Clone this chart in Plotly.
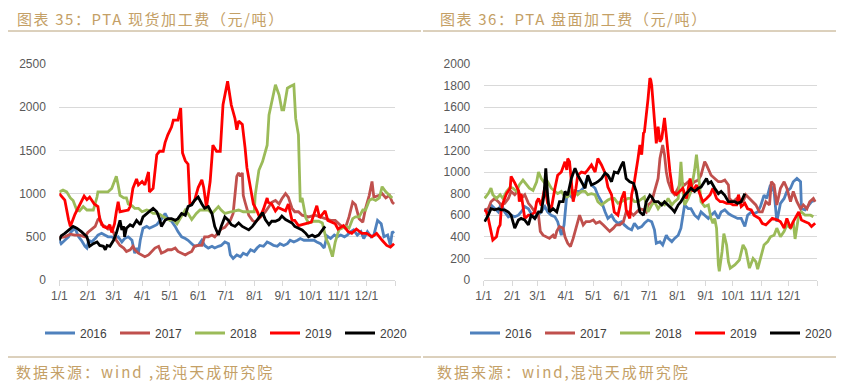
import plotly.graph_objects as go
import pandas as pd

years = ["2016", "2017", "2018", "2019", "2020"]
colors = ["#4F81BD", "#C0504D", "#9BBB59", "#FF0000", "#000000"]
month_ticks = ["1/1", "2/1", "3/1", "4/1", "5/1", "6/1", "7/1", "8/1", "9/1", "10/1", "11/1", "12/1"]

# ---------------- PTA spot processing fee (left) : day-of-year, value ----------------
spot_2016_day = [0, 2, 6, 10, 13, 17, 21, 24, 28, 30, 32, 35, 39, 42, 46, 50, 53, 57, 60, 64, 68, 71, 75, 79, 82, 84, 86, 88, 91, 95, 98, 102, 106, 109, 113, 115, 118, 122, 126, 129, 133, 137, 140, 144, 147, 151, 155, 158, 162, 166, 169, 173, 176, 180, 184, 186, 189, 193, 197, 200, 204, 208, 212, 215, 218, 222, 226, 230, 233, 237, 240, 244, 248, 251, 255, 259, 262, 266, 270, 273, 277, 280, 284, 288, 291, 295, 299, 302, 306, 310, 313, 317, 320, 324, 328, 331, 335, 339, 342, 346, 350, 353, 357, 360, 362, 364]
spot_2016_val = [460, 420, 460, 500, 560, 600, 500, 460, 390, 370, 460, 440, 480, 520, 540, 520, 500, 500, 480, 500, 440, 480, 500, 460, 310, 370, 310, 460, 600, 620, 600, 620, 640, 680, 730, 770, 710, 680, 620, 560, 500, 480, 460, 420, 390, 400, 460, 400, 370, 390, 370, 390, 400, 440, 420, 290, 250, 290, 270, 310, 290, 350, 330, 370, 400, 390, 440, 420, 400, 390, 420, 400, 420, 460, 440, 460, 480, 460, 460, 460, 460, 440, 420, 370, 510, 480, 520, 500, 520, 500, 520, 560, 580, 520, 560, 480, 560, 500, 520, 690, 650, 500, 520, 400, 560, 540]

spot_2017_day = [0, 6, 12, 17, 22, 28, 31, 35, 39, 42, 44, 46, 50, 53, 57, 59, 62, 66, 70, 73, 77, 80, 82, 86, 90, 93, 97, 100, 104, 108, 111, 115, 118, 122, 126, 129, 133, 137, 140, 144, 147, 151, 155, 158, 162, 166, 169, 173, 176, 180, 186, 189, 193, 195, 197, 199, 200, 202, 206, 210, 213, 217, 221, 224, 228, 231, 235, 239, 242, 246, 249, 253, 256, 260, 264, 271, 278, 283, 290, 295, 300, 306, 311, 315, 319, 322, 326, 330, 333, 337, 340, 342, 348, 351, 355, 359, 362, 364]
spot_2017_val = [490, 500, 530, 520, 520, 500, 550, 590, 620, 700, 720, 640, 620, 590, 590, 550, 460, 400, 370, 330, 350, 390, 350, 310, 290, 270, 290, 330, 370, 390, 310, 330, 350, 350, 370, 330, 310, 290, 310, 330, 390, 400, 400, 500, 500, 520, 500, 550, 590, 610, 690, 770, 1200, 1240, 1200, 1240, 980, 900, 750, 690, 670, 710, 750, 790, 850, 900, 920, 880, 940, 1000, 960, 830, 790, 790, 750, 730, 750, 730, 710, 690, 690, 630, 600, 730, 900, 870, 710, 670, 830, 980, 1140, 960, 980, 1000, 950, 980, 900, 880]

spot_2018_day = [0, 4, 8, 12, 15, 19, 22, 26, 30, 33, 37, 41, 42, 48, 53, 57, 61, 62, 64, 66, 70, 73, 75, 79, 82, 86, 90, 95, 98, 102, 106, 109, 115, 120, 124, 128, 133, 137, 140, 144, 149, 153, 158, 162, 166, 169, 173, 176, 180, 187, 195, 200, 204, 208, 212, 213, 215, 217, 221, 224, 226, 228, 231, 235, 239, 242, 244, 248, 251, 255, 257, 260, 262, 264, 268, 271, 277, 282, 286, 290, 293, 297, 300, 304, 311, 315, 319, 322, 326, 330, 333, 337, 340, 344, 348, 351, 355, 359, 362]
spot_2018_val = [1020, 1040, 1020, 950, 920, 810, 800, 850, 810, 810, 810, 960, 1020, 1020, 1020, 1060, 1170, 1200, 1100, 980, 950, 950, 880, 860, 830, 830, 790, 810, 800, 770, 770, 760, 720, 690, 700, 650, 740, 810, 770, 700, 770, 810, 810, 810, 770, 810, 850, 810, 770, 790, 810, 790, 790, 790, 790, 980, 1140, 1270, 1370, 1480, 1560, 1910, 2060, 2260, 2140, 1970, 1970, 2220, 2240, 2260, 1870, 1680, 900, 950, 720, 660, 680, 680, 660, 480, 410, 270, 440, 580, 620, 600, 710, 730, 730, 810, 810, 920, 940, 920, 950, 1080, 1020, 980, 950]

spot_2019_day = [0, 3, 6, 10, 12, 17, 22, 27, 30, 33, 38, 42, 44, 48, 52, 55, 57, 60, 62, 64, 66, 70, 75, 77, 80, 84, 86, 90, 93, 97, 98, 102, 106, 109, 113, 115, 118, 122, 124, 129, 132, 134, 137, 140, 142, 144, 147, 151, 155, 157, 160, 164, 167, 171, 175, 178, 183, 187, 191, 193, 195, 199, 200, 202, 204, 208, 211, 215, 218, 222, 226, 227, 231, 235, 238, 242, 246, 249, 253, 256, 260, 267, 274, 280, 283, 289, 292, 300, 303, 309, 314, 318, 323, 329, 334, 340, 345, 351, 356, 360, 364]
spot_2019_val = [1000, 960, 925, 700, 620, 760, 870, 970, 930, 960, 880, 850, 700, 617, 600, 640, 550, 650, 790, 905, 790, 800, 810, 850, 1060, 1170, 1100, 1140, 1100, 1250, 1020, 1060, 1450, 1490, 1490, 1590, 1680, 1770, 1850, 1850, 1990, 1470, 1380, 1340, 880, 880, 920, 1070, 1160, 1070, 840, 1140, 1560, 1490, 1490, 2030, 2300, 2025, 1870, 1740, 1840, 1800, 1680, 1530, 1300, 1030, 880, 800, 720, 820, 950, 900, 880, 800, 840, 820, 800, 880, 690, 690, 630, 650, 670, 860, 720, 800, 690, 650, 590, 630, 560, 540, 590, 540, 540, 500, 540, 460, 400, 380, 420]

spot_2020_day = [0, 2, 6, 12, 15, 19, 24, 30, 33, 37, 41, 44, 48, 50, 52, 55, 59, 62, 66, 68, 70, 71, 73, 77, 80, 84, 88, 91, 95, 98, 102, 106, 109, 111, 115, 118, 122, 126, 129, 133, 137, 140, 144, 147, 151, 155, 158, 162, 166, 169, 173, 176, 180, 184, 187, 191, 195, 199, 202, 206, 210, 213, 217, 221, 224, 228, 231, 235, 239, 242, 246, 249, 253, 256, 260, 264, 268, 271, 275, 278, 282, 286, 289]
spot_2020_val = [460, 510, 540, 600, 620, 600, 560, 500, 390, 420, 440, 400, 390, 350, 400, 390, 460, 540, 690, 580, 620, 500, 600, 640, 620, 690, 640, 730, 770, 790, 830, 790, 710, 620, 690, 710, 710, 690, 710, 770, 750, 850, 870, 920, 960, 880, 830, 850, 770, 620, 520, 620, 730, 690, 640, 620, 660, 620, 600, 580, 620, 660, 720, 780, 700, 640, 680, 680, 700, 740, 700, 680, 660, 620, 600, 580, 540, 500, 520, 500, 520, 580, 620]

# ---------------- PTA futures processing fee (right) ----------------
fut_2016_day = [1, 5, 8, 12, 16, 19, 23, 27, 30, 34, 38, 41, 45, 49, 52, 56, 60, 63, 67, 70, 74, 78, 81, 85, 88, 91, 94, 98, 102, 105, 109, 112, 114, 118, 122, 125, 129, 133, 136, 140, 143, 147, 151, 154, 158, 162, 165, 169, 173, 176, 180, 184, 187, 189, 193, 196, 200, 202, 206, 209, 213, 216, 220, 224, 227, 231, 235, 238, 242, 246, 249, 253, 257, 260, 264, 268, 271, 275, 278, 282, 286, 289, 293, 296, 300, 303, 307, 310, 314, 318, 321, 325, 329, 332, 336, 339, 343, 347, 348, 352, 356, 359, 363]
fut_2016_val = [660, 630, 695, 660, 630, 710, 630, 585, 600, 585, 600, 630, 680, 660, 615, 570, 600, 630, 680, 630, 600, 585, 540, 415, 510, 785, 785, 755, 820, 820, 850, 910, 955, 880, 850, 785, 725, 630, 570, 600, 555, 525, 540, 510, 480, 465, 525, 480, 495, 525, 555, 540, 465, 340, 355, 325, 415, 385, 355, 385, 415, 480, 695, 660, 660, 600, 570, 630, 600, 570, 600, 630, 570, 630, 650, 615, 600, 585, 570, 570, 495, 600, 630, 615, 630, 680, 785, 755, 880, 820, 540, 710, 755, 820, 850, 910, 940, 910, 660, 650, 695, 725, 740]

fut_2017_day = [1, 5, 8, 12, 16, 19, 23, 27, 30, 34, 38, 41, 45, 49, 52, 56, 60, 62, 65, 69, 72, 76, 78, 80, 83, 87, 89, 92, 95, 98, 102, 105, 109, 112, 116, 120, 123, 127, 131, 134, 138, 142, 145, 149, 153, 156, 160, 164, 167, 171, 175, 178, 180, 184, 187, 191, 193, 195, 196, 198, 200, 202, 206, 209, 213, 216, 220, 224, 227, 231, 235, 238, 242, 244, 246, 249, 253, 257, 260, 264, 268, 269, 273, 277, 280, 284, 287, 291, 295, 298, 302, 305, 309, 313, 315, 318, 321, 325, 329, 332, 336, 339, 343, 347, 350, 354, 357, 361, 363]
fut_2017_val = [650, 660, 725, 755, 725, 695, 710, 755, 820, 790, 830, 755, 790, 710, 680, 630, 600, 450, 415, 400, 385, 415, 385, 450, 495, 480, 400, 340, 310, 385, 510, 600, 510, 540, 540, 555, 525, 540, 510, 480, 450, 480, 510, 510, 540, 630, 630, 600, 630, 660, 650, 630, 695, 725, 820, 940, 1125, 1190, 1250, 1160, 1000, 910, 820, 790, 850, 910, 880, 910, 880, 910, 925, 970, 1095, 1065, 1030, 970, 940, 910, 910, 925, 880, 755, 725, 755, 725, 725, 790, 755, 725, 695, 630, 630, 725, 695, 910, 880, 695, 850, 910, 850, 725, 820, 725, 660, 695, 660, 725, 755, 725]

fut_2018_day = [1, 5, 8, 10, 14, 18, 21, 25, 29, 32, 36, 39, 43, 47, 50, 54, 58, 60, 63, 67, 70, 74, 78, 81, 85, 89, 92, 96, 100, 103, 107, 111, 114, 118, 122, 125, 129, 133, 136, 140, 143, 147, 151, 154, 158, 162, 165, 169, 173, 176, 180, 184, 187, 191, 195, 198, 202, 206, 209, 213, 215, 216, 218, 220, 224, 227, 231, 233, 235, 237, 238, 242, 246, 249, 251, 253, 255, 257, 258, 261, 263, 266, 268, 270, 275, 280, 284, 287, 291, 295, 298, 300, 304, 307, 311, 314, 318, 321, 325, 329, 332, 336, 339, 341, 345, 348, 352, 358, 361]
fut_2018_val = [755, 800, 850, 790, 755, 790, 755, 820, 860, 850, 820, 880, 925, 880, 850, 830, 910, 1000, 940, 895, 910, 850, 820, 800, 820, 770, 770, 820, 830, 790, 820, 820, 790, 800, 790, 725, 695, 725, 740, 755, 755, 710, 725, 740, 755, 755, 725, 725, 755, 770, 630, 695, 725, 660, 710, 695, 755, 695, 725, 755, 970, 1095, 850, 695, 755, 820, 1020, 1160, 1000, 820, 725, 680, 695, 570, 525, 570, 480, 140, 80, 260, 430, 325, 170, 110, 140, 185, 325, 280, 110, 200, 170, 100, 230, 325, 355, 400, 415, 480, 400, 450, 510, 480, 540, 380, 600, 630, 600, 600, 585]

fut_2019_day = [1, 3, 5, 8, 10, 14, 16, 18, 19, 21, 25, 29, 30, 34, 38, 39, 41, 45, 49, 52, 56, 58, 60, 63, 67, 70, 74, 78, 81, 85, 89, 91, 92, 94, 98, 101, 103, 107, 111, 114, 118, 122, 125, 129, 133, 136, 140, 143, 147, 151, 154, 156, 160, 162, 165, 169, 171, 173, 175, 176, 178, 180, 182, 183, 184, 187, 189, 191, 193, 195, 196, 198, 200, 202, 204, 206, 207, 211, 215, 218, 222, 226, 229, 233, 237, 240, 244, 248, 251, 255, 259, 262, 266, 270, 273, 277, 279, 282, 286, 289, 293, 296, 302, 305, 309, 313, 316, 322, 325, 329, 332, 336, 339, 345, 348, 352, 356, 359, 363]
fut_2019_val = [650, 630, 570, 450, 370, 400, 480, 510, 630, 710, 800, 850, 960, 900, 830, 725, 800, 570, 600, 600, 630, 725, 755, 690, 860, 710, 660, 850, 970, 1000, 1095, 1020, 1125, 1095, 725, 850, 970, 1000, 990, 1020, 1065, 1000, 1125, 1065, 990, 860, 790, 630, 600, 755, 820, 650, 570, 790, 910, 1125, 1250, 1160, 1360, 1370, 1500, 1680, 1870, 1850, 1800, 1435, 1265, 1420, 1280, 1310, 1370, 1500, 1340, 1160, 1000, 880, 820, 790, 820, 850, 755, 940, 820, 880, 790, 725, 755, 790, 850, 755, 725, 725, 710, 710, 695, 695, 790, 680, 710, 660, 650, 600, 570, 525, 510, 540, 570, 555, 540, 480, 570, 480, 540, 630, 555, 540, 525, 495, 525]

fut_2020_day = [1, 5, 8, 12, 16, 19, 23, 27, 30, 34, 38, 41, 45, 49, 52, 56, 60, 63, 66, 68, 70, 72, 76, 80, 83, 87, 89, 92, 96, 100, 103, 107, 111, 114, 118, 122, 125, 129, 133, 136, 140, 143, 147, 151, 153, 156, 160, 164, 167, 171, 175, 178, 182, 184, 187, 191, 195, 198, 202, 206, 209, 213, 216, 220, 224, 227, 231, 235, 238, 242, 244, 246, 249, 253, 257, 260, 264, 268, 271, 275, 278, 282, 286]
fut_2020_val = [540, 600, 660, 650, 660, 650, 650, 630, 600, 480, 555, 570, 555, 510, 600, 570, 630, 630, 785, 1035, 785, 630, 660, 630, 725, 725, 820, 785, 940, 1035, 970, 910, 850, 970, 880, 895, 910, 940, 990, 970, 910, 1000, 990, 1065, 1095, 940, 910, 895, 820, 630, 600, 725, 785, 770, 725, 725, 695, 725, 695, 660, 630, 695, 725, 785, 820, 850, 820, 850, 860, 910, 940, 895, 910, 850, 800, 820, 785, 725, 725, 725, 710, 725, 800]

spot_days = [spot_2016_day, spot_2017_day, spot_2018_day, spot_2019_day, spot_2020_day]
spot_vals = [spot_2016_val, spot_2017_val, spot_2018_val, spot_2019_val, spot_2020_val]
fut_days = [fut_2016_day, fut_2017_day, fut_2018_day, fut_2019_day, fut_2020_day]
fut_vals = [fut_2016_val, fut_2017_val, fut_2018_val, fut_2019_val, fut_2020_val]

base = pd.Timestamp("2019-01-01")
def to_dates(days):
    return [base + pd.Timedelta(days=int(d)) for d in days]

fig = go.Figure()
for i, y in enumerate(years):
    fig.add_trace(go.Scatter(x=to_dates(spot_days[i]), y=spot_vals[i], mode="lines", name=y,
                             line=dict(color=colors[i], width=2.8), xaxis="x", yaxis="y", legend="legend"))
for i, y in enumerate(years):
    fig.add_trace(go.Scatter(x=to_dates(fut_days[i]), y=fut_vals[i], mode="lines", name=y,
                             line=dict(color=colors[i], width=2.8), xaxis="x2", yaxis="y2", legend="legend2"))

# The page body has an 8px margin, so the figure is drawn 8px smaller and
# every page position is converted into figure coordinates.
OFF = 8
W, H = 844 - OFF, 387 - OFF
def px(x):
    return (x - OFF) / W
def py(y):
    return 1 - (y - OFF) / H

tickvals = [base + pd.DateOffset(months=m) for m in range(13)]
ticktext = month_ticks + [""]
font_axis = dict(family="Liberation Sans, Arial", size=12, color="#595959")

def xaxis(x0, x1):
    return dict(type="date", domain=[px(x0), px(x1)], range=[base, base + pd.DateOffset(years=1)],
                tickvals=tickvals, ticktext=ticktext, ticks="outside", ticklen=5, tickcolor="#D9D9D9",
                showline=True, linecolor="#D9D9D9", linewidth=1, showgrid=False, zeroline=False,
                tickfont=font_axis, tickangle=0, fixedrange=True)

def yaxis(rng, dt):
    return dict(domain=[py(280), py(64)], range=rng, dtick=dt, showgrid=True,
                gridcolor="#D9D9D9", gridwidth=1, zeroline=False, showline=False, ticks="outside",
                ticklen=10, tickcolor="rgba(0,0,0,0)", fixedrange=True,
                tickfont=dict(family="Liberation Sans, Arial", size=12, color="#595959"))

xa1 = xaxis(59.3, 395); xa1["anchor"] = "y"
xa2 = xaxis(483.7, 817); xa2["anchor"] = "y2"
ya1 = yaxis([0, 2500], 500); ya1["anchor"] = "x"
ya2 = yaxis([0, 2000], 200); ya2["anchor"] = "x2"

gold = "#C4A066"
rule = "#B9A27A"
title_font = dict(family="Noto Sans CJK SC", size=15, color=gold)
legend_font = dict(family="Liberation Sans, Arial", size=12, color="#404040")

def spaced(t, s):
    return '<span style="letter-spacing:%spx">%s</span>' % (s, t)

fig.update_layout(
    width=W, height=H, margin=dict(l=0, r=0, t=0, b=0, autoexpand=False),
    paper_bgcolor="white", plot_bgcolor="white",
    xaxis=xa1, yaxis=ya1, xaxis2=xa2, yaxis2=ya2,
    legend=dict(orientation="h", x=px(40), y=py(333), xanchor="left", yanchor="middle",
                font=legend_font, entrywidth=30, entrywidthmode="pixels", bgcolor="rgba(0,0,0,0)",
                itemwidth=30),
    legend2=dict(orientation="h", x=px(465), y=py(333), xanchor="left", yanchor="middle",
                 font=legend_font, entrywidth=30, entrywidthmode="pixels", bgcolor="rgba(0,0,0,0)",
                 itemwidth=30),
    showlegend=True,
    shapes=[
        dict(type="line", xref="paper", yref="paper", x0=px(8), x1=px(421), y0=py(31), y1=py(31),
             line=dict(color=rule, width=1)),
        dict(type="line", xref="paper", yref="paper", x0=px(423), x1=px(844), y0=py(31), y1=py(31),
             line=dict(color=rule, width=1)),
        dict(type="line", xref="paper", yref="paper", x0=px(8), x1=px(421), y0=py(357), y1=py(357),
             line=dict(color=rule, width=1)),
        dict(type="line", xref="paper", yref="paper", x0=px(423), x1=px(844), y0=py(357), y1=py(357),
             line=dict(color=rule, width=1)),
    ],
    annotations=[
        dict(text=spaced("图表 35：PTA 现货加工费（元/吨）", 1.6), xref="paper", yref="paper", x=px(15), y=py(19),
             xanchor="left", yanchor="middle", showarrow=False, font=title_font),
        dict(text=spaced("图表 36：PTA 盘面加工费（元/吨）", 1.6), xref="paper", yref="paper", x=px(438), y=py(19),
             xanchor="left", yanchor="middle", showarrow=False, font=title_font),
        dict(text=spaced("数据来源：wind ,混沌天成研究院", 2), xref="paper", yref="paper", x=px(14), y=py(371),
             xanchor="left", yanchor="middle", showarrow=False, font=title_font),
        dict(text=spaced("数据来源：wind,混沌天成研究院", 2), xref="paper", yref="paper", x=px(435), y=py(371),
             xanchor="left", yanchor="middle", showarrow=False, font=title_font),
    ],
)

fig.write_html("out.html")
